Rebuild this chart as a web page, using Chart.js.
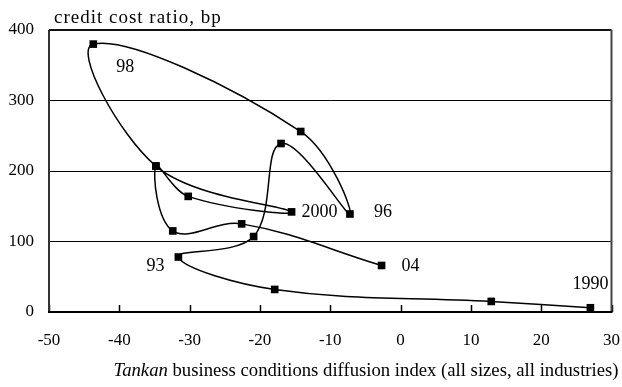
<!DOCTYPE html>
<html>
<head>
<meta charset="utf-8">
<script src="https://cdn.jsdelivr.net/npm/chart.js@4/dist/chart.umd.min.js"></script>
<style>
  html, body { margin: 0; padding: 0; background: #fff; }
  canvas { display: block; }
</style>
</head>
<body>
<canvas id="c" width="622" height="387"></canvas>
<script>
// Tankan DI (x) against bank credit cost ratio in bp (y), traced year by year 1990 -> 2004.
// Between 2001 and 2002 the path runs back through the 1999 reading.
const pathDI    = [27.0, 12.9, -17.9, -31.6, -20.9, -17.0, -7.2, -14.2, -43.7, -34.8, -15.5, -30.2, -34.8, -32.4, -22.6, -2.7];
const pathRatio = [6, 15, 32, 78, 107, 239, 139, 256, 380, 207, 142, 164, 207, 115, 125, 66];
const yearTags  = ['1990', '', '', '93', '', '', '96', '', '98', '', '2000', '', '', '', '', '04'];
const xTicks = [-50, -40, -30, -20, -10, 0, 10, 20, 30];
const yTicks = [0, 100, 200, 300, 400];

const FONT = "'Liberation Serif', 'Times New Roman', serif";

// where each year tag sits relative to its marker
const tagPlacement = {
  '1990': { dx: 0,   dy: -24, align: 'center' },
  '93':   { dx: -14, dy: 9,   align: 'right' },
  '96':   { dx: 24,  dy: -2,  align: 'left' },
  '98':   { dx: 32,  dy: 23,  align: 'center' },
  '2000': { dx: 10,  dy: 0,   align: 'left' },
  '04':   { dx: 20,  dy: 1,   align: 'left' }
};

const points = pathDI.map((x, i) => ({ x: x, y: pathRatio[i] }));

const framePlugin = {
  id: 'frame',
  beforeDatasetsDraw(chart) {
    const { ctx, chartArea: a, scales: { x } } = chart;
    ctx.save();
    // inward tick marks on the bottom axis
    ctx.strokeStyle = '#000';
    ctx.lineWidth = 1.5;
    xTicks.forEach(v => {
      const px = Math.round(x.getPixelForValue(v)) + 0.5;
      ctx.beginPath();
      ctx.moveTo(px, a.bottom);
      ctx.lineTo(px, a.bottom - 7);
      ctx.stroke();
    });
    // plot frame
    ctx.lineWidth = 2;
    ctx.strokeStyle = '#333';
    ctx.beginPath();
    ctx.moveTo(a.left, a.bottom); ctx.lineTo(a.left, a.top);
    ctx.stroke();
    ctx.strokeStyle = '#111';
    ctx.beginPath();
    ctx.moveTo(a.left, a.top); ctx.lineTo(a.right, a.top);
    ctx.stroke();
    ctx.strokeStyle = '#444';
    ctx.beginPath();
    ctx.moveTo(a.right, a.top); ctx.lineTo(a.right, a.bottom);
    ctx.stroke();
    ctx.strokeStyle = '#000';
    ctx.beginPath();
    ctx.moveTo(a.left - 1, a.bottom); ctx.lineTo(a.right + 1, a.bottom);
    ctx.stroke();
    ctx.restore();
  },
  afterDraw(chart) {
    const { ctx, chartArea: a } = chart;
    const meta = chart.getDatasetMeta(0);
    ctx.save();
    ctx.fillStyle = '#000';
    ctx.textBaseline = 'middle';
    ctx.font = '18px ' + FONT;
    yearTags.forEach((tag, i) => {
      if (!tag) return;
      const p = meta.data[i];
      const pl = tagPlacement[tag];
      ctx.textAlign = pl.align;
      ctx.fillText(tag, p.x + pl.dx, p.y + pl.dy);
    });

    // axis titles
    ctx.textBaseline = 'alphabetic';
    ctx.textAlign = 'left';
    ctx.font = '19px ' + FONT;
    ctx.letterSpacing = '1px';
    ctx.fillText('credit cost ratio, bp', a.left + 5, 23);
    ctx.letterSpacing = '0px';

    const italicPart = 'Tankan';
    const plainPart = ' business conditions diffusion index (all sizes, all industries)';
    const size = 18.7;
    ctx.font = 'italic ' + size + 'px ' + FONT;
    const w1 = ctx.measureText(italicPart).width;
    ctx.font = size + 'px ' + FONT;
    const w2 = ctx.measureText(plainPart).width;
    const cx = 366;
    const startX = cx - (w1 + w2) / 2;
    ctx.font = 'italic ' + size + 'px ' + FONT;
    ctx.fillText(italicPart, startX, 376);
    ctx.font = size + 'px ' + FONT;
    ctx.fillText(plainPart, startX + w1, 376);
    ctx.restore();
  }
};

new Chart(document.getElementById('c'), {
  type: 'scatter',
  data: {
    datasets: [{
      data: points,
      showLine: true,
      borderColor: '#000',
      borderWidth: 1.5,
      tension: 0.38,
      pointStyle: 'rect',
      pointRadius: 5.4,
      pointHoverRadius: 5.4,
      pointBackgroundColor: '#000',
      pointBorderWidth: 0,
      clip: false
    }]
  },
  options: {
    responsive: false,
    devicePixelRatio: 1,
    animation: false,
    events: [],
    layout: { padding: { left: 0, right: 10.5, top: 30, bottom: 0 } },
    plugins: { legend: { display: false }, tooltip: { enabled: false } },
    scales: {
      x: {
        type: 'linear',
        min: -50, max: 30,
        afterBuildTicks: s => { s.ticks = xTicks.map(v => ({ value: v })); },
        afterFit: s => { s.height = 75; s.paddingLeft = 0; s.paddingRight = 0; },
        grid: { display: false },
        border: { display: false },
        ticks: {
          color: '#000',
          padding: 10,
          maxRotation: 0,
          font: { family: FONT, size: 17 },
          callback: v => String(v)
        }
      },
      y: {
        type: 'linear',
        min: 0, max: 400,
        afterBuildTicks: s => { s.ticks = yTicks.map(v => ({ value: v })); },
        afterFit: s => { s.width = 49; s.paddingTop = 0; s.paddingBottom = 0; },
        grid: {
          drawTicks: false,
          color: c => (c.tick && c.tick.value > 0 && c.tick.value < 400) ? '#000' : 'rgba(0,0,0,0)',
          lineWidth: 1
        },
        border: { display: false },
        ticks: {
          color: '#000',
          padding: 15,
          font: { family: FONT, size: 17 },
          callback: v => String(v)
        }
      }
    }
  },
  plugins: [framePlugin]
});
</script>
</body>
</html>
